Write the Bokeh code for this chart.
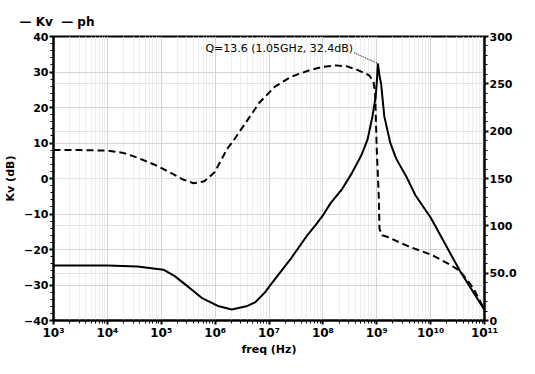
import numpy as np
from bokeh.plotting import figure
from bokeh.models import (Range1d, LinearAxis, FixedTicker, Grid, CustomJSTickFormatter)
from bokeh.core.properties import value
from bokeh.embed import file_html
from bokeh.resources import INLINE

# ---- data (log10 frequency, value) ----
kv_logf = [3.0, 3.5, 4.0, 4.56, 5.04, 5.25, 5.45, 5.75, 6.05, 6.31, 6.58, 6.75, 6.93, 7.01,
           7.41, 7.71, 7.86, 8.0, 8.14, 8.36, 8.53, 8.71, 8.83, 8.92, 8.98, 9.0, 9.021, 9.05, 9.08,
           9.14, 9.25, 9.36, 9.54, 9.72, 10.0, 10.55, 11.0]
kv_db = [-24.5, -24.5, -24.5, -24.8, -25.7, -27.5, -29.9, -33.6, -35.9, -36.9, -36.0, -34.8,
         -32.0, -30.3, -22.5, -16.0, -13.2, -10.4, -7.0, -2.9, 1.3, 6.4, 11.0, 17.5, 23.1, 27.0, 32.4,
         29.0, 26.8, 17.5, 10.1, 5.6, 0.8, -4.8, -11.0, -26.2, -37.0]

ph_logf = [3.0, 3.5, 4.0, 4.3, 4.56, 4.9, 5.16, 5.4, 5.6, 5.8, 5.99, 6.22, 6.34, 6.52, 6.82,
           7.11, 7.41, 7.76, 8.0, 8.24, 8.45, 8.65, 8.86, 8.94, 8.97, 9.0, 9.04, 9.05, 9.10,
           9.19, 9.6, 10.02, 10.37, 10.55, 10.79, 11.0]
ph_deg = [180, 180, 179.5, 177, 172, 164, 156.5, 149, 145, 147, 156.5, 181, 190, 205, 230,
          247, 257.5, 264.5, 268, 269.5, 268.5, 264.5, 259, 252, 240, 181, 128, 97, 90,
          88.5, 78, 69.3, 58.8, 52, 34.5, 11.5]

series_names = ["Kv", "ph"]
x_decades = [3, 4, 5, 6, 7, 8, 9, 10, 11]
kv_ticks = [-40, -30, -20, -10, 0, 10, 20, 30, 40]
ph_ticks = [0, 50, 100, 150, 200, 250, 300]
ph_tick_labels = {50: "50.0"}

kv_f = [10 ** v for v in kv_logf]
ph_f = [10 ** v for v in ph_logf]

FONT = "DejaVu Sans"

p = figure(width=519, height=358, x_axis_type="log", output_backend="svg", toolbar_location=None,
           x_range=Range1d(1e3, 1e11), y_range=Range1d(-40, 40),
           min_border_left=40, min_border_right=0, min_border_top=36, min_border_bottom=0)
p.extra_y_ranges = {"ph": Range1d(0, 300)}

# legend-like header
p.title.text = "\u00a0\u00a0".join("\u2014 " + n for n in series_names)
p.title.text_font = FONT
p.title.text_font_style = "bold"
p.title.text_font_size = "12px"
p.title.text_color = "black"
p.title.align = "left"
p.title.offset = -34
p.title.standoff = 16

major_x = [10.0 ** d for d in x_decades]
minor_x = [m * 10.0 ** d for d in x_decades[:-1] for m in range(2, 10)]

# grids
p.xgrid.ticker = FixedTicker(ticks=major_x, minor_ticks=minor_x)
p.xgrid.grid_line_color = "#d4d4d4"
p.xgrid.minor_grid_line_color = "#eeeeee"
p.ygrid.ticker = FixedTicker(ticks=kv_ticks)
p.ygrid.grid_line_color = "#d4d4d4"
ph_grid = Grid(dimension=1, y_range_name="ph", ticker=FixedTicker(ticks=ph_ticks),
               grid_line_color="#e2e2e2")
p.add_layout(ph_grid)

r_kv = p.line(kv_f, kv_db, line_color="black", line_width=2)
r_ph = p.line(ph_f, ph_deg, line_color="black", line_width=2, line_dash="7 4", y_range_name="ph")

# annotation at peak
i = int(np.argmax(kv_db))
pk_f, pk_db = kv_f[i], kv_db[i]
tx_f, tx_db = pk_f / 2.9, pk_db + 4.2
p.line([tx_f * 1.05, pk_f], [pk_db + 3.0, pk_db], line_color="black", line_width=1, line_dash="1 1")
p.text([tx_f], [tx_db], text=["Q=13.6 (1.05GHz, 32.4dB)"], text_align="right", text_baseline="middle",
       text_font=value(FONT), text_font_size="11px", text_color="black")

def style_axis(ax):
    ax.axis_line_color = "black"
    ax.axis_line_width = 2
    ax.major_tick_line_color = "black"
    ax.minor_tick_line_color = "black"
    ax.major_tick_line_width = 2
    ax.major_tick_out = 4
    ax.major_tick_in = 0
    ax.minor_tick_out = 3
    ax.minor_tick_in = 0
    ax.major_label_text_font = FONT
    ax.major_label_text_font_style = "bold"
    ax.major_label_text_font_size = "11px"
    ax.major_label_text_color = "black"
    ax.axis_label_text_font = FONT
    ax.axis_label_text_font_style = "bold"
    ax.axis_label_text_font_size = "11px"
    ax.axis_label_text_color = "black"
    ax.major_label_standoff = 1

xa = p.xaxis[0]
xa.ticker = FixedTicker(ticks=major_x, minor_ticks=minor_x)
xa.formatter = CustomJSTickFormatter(code="""
const sup = ['\\u2070','\\u00b9','\\u00b2','\\u00b3','\\u2074','\\u2075','\\u2076','\\u2077','\\u2078','\\u2079'];
const e = Math.round(Math.log10(tick));
return '10' + String(e).split('').map(c => sup[parseInt(c)]).join('');
""")
xa.axis_label = "freq (Hz)"
style_axis(xa)
xa.major_label_text_font_size = "12px"
xa.axis_label_standoff = 0

ya = p.yaxis[0]
ya.ticker = FixedTicker(ticks=kv_ticks, minor_ticks=list(range(-40, 41, 2)))
ya.axis_label = "Kv (dB)"
style_axis(ya)
ya.axis_label_standoff = 4

ra = LinearAxis(y_range_name="ph",
                ticker=FixedTicker(ticks=ph_ticks, minor_ticks=list(range(0, 301, 10))),
                major_label_overrides=ph_tick_labels)
style_axis(ra)
p.add_layout(ra, "right")

p.outline_line_color = "black"
p.outline_line_width = 2

open("out.html", "w").write(file_html(p, INLINE))
